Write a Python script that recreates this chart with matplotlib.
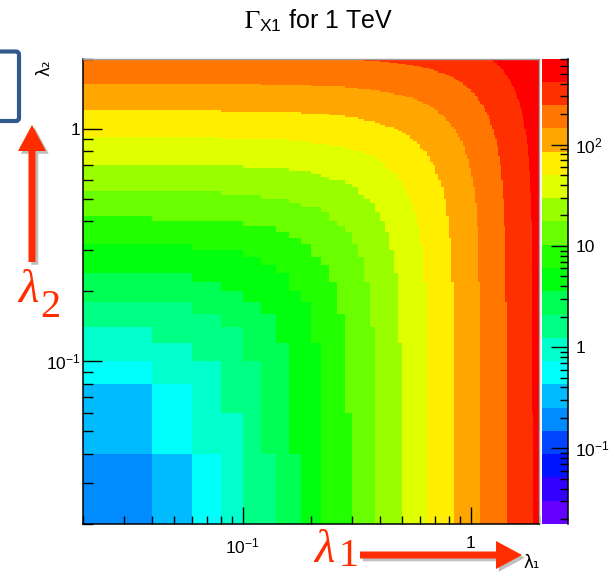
import colorsys
import numpy as np
import matplotlib
matplotlib.use("Agg")
import matplotlib.pyplot as plt
import matplotlib.patheffects as pe
from matplotlib.colors import ListedColormap, BoundaryNorm
from matplotlib.patches import FancyArrow, FancyBboxPatch
from matplotlib.ticker import FixedLocator, FixedFormatter, NullFormatter

plt.rcParams["font.family"] = ["Liberation Sans", "DejaVu Sans"]
plt.rcParams["mathtext.fontset"] = "stix"

# X1 resonance, couplings scanned on a 100x100 grid from 0 to 2
MASS_GEV = 1000.0
LAMBDA_MAX = 2.0
N_BINS = 100
# Gamma = 3 M / (8 pi) * (w1 * l1^2 + w2 * l2^2)
WIDTH_PREFACTOR = 3.0 / (8.0 * np.pi)
COUPLING_WEIGHTS = [1.0, 0.5]
N_CONTOURS = 20

AXIS_TICKS = [0.1, 1.0]
AXIS_TICK_LABELS = [r"$\mathdefault{10^{-1}}$", "1"]
Z_TICKS = [0.1, 1.0, 10.0, 100.0]
Z_TICK_LABELS = [r"$\mathdefault{10^{-1}}$", "1", "10", r"$\mathdefault{10^{2}}$"]

RED = "#ff2d00"
BOX_BLUE = "#335a8c"


def root_palette(n_levels, n_colors=50):
    # old ROOT "pretty" palette: hue 280 -> 0, sampled per contour
    cols = []
    for k in range(n_levels):
        i = int((k + 0.99) * n_colors / n_levels)
        hue = 280.0 - (i + 1) * 280.0 / n_colors
        cols.append(colorsys.hls_to_rgb(hue / 360.0, 0.5, 1.0))
    return cols


def log_minor(lo, hi):
    out = []
    for d in range(-3, 4):
        for m in range(2, 10):
            v = m * 10.0 ** d
            if lo <= v <= hi:
                out.append(v)
    return out


edges = np.linspace(0.0, LAMBDA_MAX, N_BINS + 1)
centers = 0.5 * (edges[:-1] + edges[1:])
l1, l2 = np.meshgrid(centers, centers)
gamma = WIDTH_PREFACTOR * MASS_GEV * (COUPLING_WEIGHTS[0] * l1 ** 2 + COUPLING_WEIGHTS[1] * l2 ** 2)

zmin, zmax = gamma.min(), gamma.max()
levels = np.logspace(np.log10(zmin), np.log10(zmax), N_CONTOURS + 1)
cmap = ListedColormap(root_palette(N_CONTOURS))
norm = BoundaryNorm(levels, N_CONTOURS)

fig = plt.figure(figsize=(6.11, 5.76), dpi=100)
W, H = 611.0, 576.0

# main pad
ax = fig.add_axes([83.4 / W, 1 - 524 / H, 456 / W, 465.5 / H])
ax.pcolormesh(edges[1:], edges[1:], gamma[1:, 1:], cmap=cmap, norm=norm,
              antialiased=False, linewidth=0)
ax.set_xscale("log")
ax.set_yscale("log")
ax.set_xlim(edges[1], LAMBDA_MAX)
ax.set_ylim(edges[1], LAMBDA_MAX)
for axis in (ax.xaxis, ax.yaxis):
    axis.set_major_locator(FixedLocator(AXIS_TICKS))
    axis.set_major_formatter(FixedFormatter(AXIS_TICK_LABELS))
    axis.set_minor_locator(FixedLocator(log_minor(edges[1], LAMBDA_MAX)))
    axis.set_minor_formatter(NullFormatter())
ax.tick_params(axis="x", which="both", direction="in", top=False, labelsize=12.5, pad=9)
ax.tick_params(axis="y", which="both", direction="in", right=False, labelsize=12.5, pad=2)
ax.tick_params(axis="x", which="major", length=12, width=1)
ax.tick_params(axis="x", which="minor", length=6, width=1)
ax.tick_params(axis="y", which="major", length=14, width=1)
ax.tick_params(axis="y", which="minor", length=7, width=1)
for side in ("left", "bottom"):
    ax.spines[side].set_color("black")
    ax.spines[side].set_linewidth(1.1)
for side in ("top", "right"):
    ax.spines[side].set_color("#a0a0a0")
    ax.spines[side].set_linewidth(1.0)

# palette axis
cax = fig.add_axes([542 / W, 1 - 524 / H, 26.3 / W, 465.5 / H])
cax.pcolormesh([0, 1], levels, np.arange(N_CONTOURS).reshape(-1, 1), cmap=cmap,
               vmin=-0.5, vmax=N_CONTOURS - 0.5, antialiased=False, linewidth=0)
cax.set_yscale("log")
cax.set_ylim(zmin, zmax)
cax.set_xlim(0, 1)
cax.xaxis.set_visible(False)
cax.yaxis.tick_right()
cax.yaxis.set_major_locator(FixedLocator(Z_TICKS))
cax.yaxis.set_major_formatter(FixedFormatter(Z_TICK_LABELS))
cax.yaxis.set_minor_locator(FixedLocator(log_minor(zmin, zmax)))
cax.yaxis.set_minor_formatter(NullFormatter())
cax.tick_params(axis="y", which="both", direction="in", left=False, labelsize=12.5, pad=5)
cax.tick_params(axis="y", which="major", length=12, width=1)
cax.tick_params(axis="y", which="minor", length=6, width=1)
for side in ("left", "top", "bottom"):
    cax.spines[side].set_visible(False)
cax.spines["right"].set_linewidth(1.1)

fig.text(318.5 / W, 1 - 29 / H, r"$\Gamma_{\mathdefault{X1}}$ for 1 TeV", ha="center",
         va="baseline", fontsize=18)

# overlay in pixel units for the slide annotations
ov = fig.add_axes([0, 0, 1, 1], facecolor="none")
ov.set_xlim(0, W)
ov.set_ylim(H, 0)
ov.axis("off")

ov.text(532, 563, "λ₁", fontsize=12, ha="center", va="center", family="DejaVu Sans")
ov.text(44, 67.5, "λ₂", fontsize=12, ha="center", va="center", rotation=90,
        family="DejaVu Sans")

box = FancyBboxPatch((-40, 51.5), 59, 69.5, boxstyle="round,pad=0,rounding_size=3",
                     fill=False, ec=BOX_BLUE, lw=3)
ov.add_patch(box)

shadow = [pe.SimplePatchShadow(offset=(2, -2), shadow_rgbFace="black", alpha=0.25), pe.Normal()]
for x0, y0, dx, dy in [(360, 555, 162, 0), (32, 262, 0, -137)]:
    arr = FancyArrow(x0, y0, dx, dy, width=7, head_width=28, head_length=26,
                     length_includes_head=True, color=RED, lw=0)
    arr.set_path_effects(shadow)
    ov.add_patch(arr)

for x, y, sx, sy, sub in [(314, 562, 338, 566, "1"), (18, 302, 40, 317, "2")]:
    ov.text(x, y, "λ", fontsize=34, color=RED, family="Liberation Serif",
            style="italic", va="baseline")
    ov.text(sx, sy, sub, fontsize=29, color=RED, family="Liberation Serif",
            va="baseline")

fig.savefig("out.png", dpi=100)
